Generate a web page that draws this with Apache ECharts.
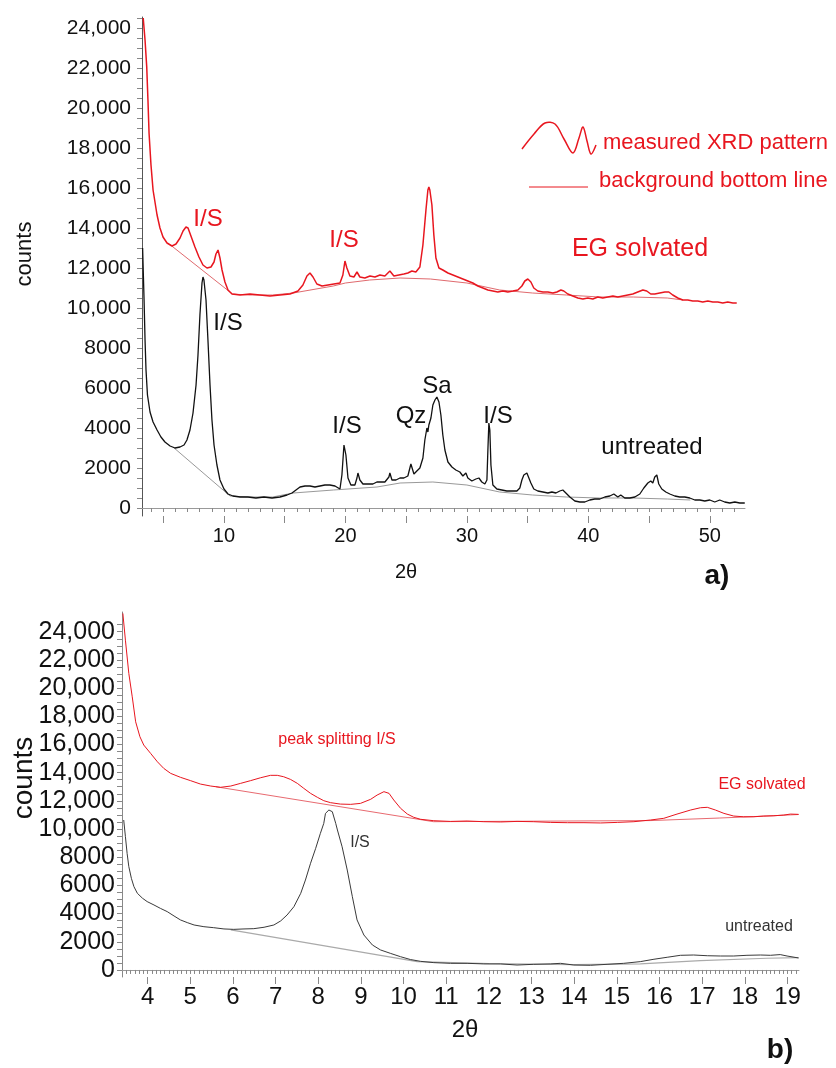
<!DOCTYPE html>
<html>
<head>
<meta charset="utf-8">
<title>XRD patterns - EG solvated / untreated</title>
<script src="https://cdn.jsdelivr.net/npm/echarts@6.0.0/dist/echarts.min.js"></script>
<style>
  html, body { margin: 0; padding: 0; background: #fff; }
  #main { width: 836px; height: 1068px; }
</style>
</head>
<body>
<div id="main"></div>
<script>
// ---- panel a) 2theta 3-53 ----
var egA = [[3.35,24500],[3.5,23400],[3.64,22050],[3.74,20400],[3.83,18750],[3.99,17150],[4.16,15900],[4.49,14650],[4.73,14000],[4.98,13550],[5.31,13250],[5.72,13100],[6.05,13200],[6.38,13500],[6.63,13850],[6.87,14050],[7.04,14000],[7.28,13600],[7.61,13050],[7.94,12550],[8.27,12150],[8.6,12000],[8.93,12050],[9.18,12300],[9.34,12700],[9.51,12900],[9.67,12500],[9.84,11900],[10.08,11300],[10.33,10900],[10.66,10700],[11.32,10650],[12.14,10700],[12.96,10650],[13.79,10600],[14.61,10650],[15.43,10700],[16.09,10850],[16.5,11150],[16.83,11600],[17.08,11750],[17.33,11550],[17.65,11200],[18.07,11100],[18.56,11150],[19.05,11200],[19.55,11250],[19.79,11650],[19.96,12350],[20.12,12000],[20.37,11600],[20.7,11550],[20.95,11800],[21.19,11550],[21.6,11500],[22.02,11600],[22.43,11550],[22.84,11650],[23.25,11600],[23.66,11850],[23.99,11600],[24.4,11650],[24.81,11700],[25.14,11750],[25.47,11850],[25.8,11800],[26.13,12050],[26.38,13150],[26.63,14900],[26.79,15900],[26.87,16050],[26.95,15900],[27.12,15150],[27.28,13650],[27.45,12500],[27.7,12000],[28.02,11900],[28.44,11750],[28.85,11650],[29.26,11550],[29.67,11450],[30.08,11350],[30.49,11250],[30.9,11100],[31.32,11000],[31.73,10900],[32.14,10850],[32.55,10800],[32.96,10850],[33.37,10800],[33.79,10850],[34.2,10900],[34.53,11100],[34.77,11350],[35.02,11450],[35.27,11300],[35.51,11000],[35.84,10850],[36.26,10800],[36.67,10800],[37.08,10750],[37.41,10800],[37.74,10900],[37.98,10850],[38.31,10700],[38.72,10600],[39.14,10500],[39.55,10450],[39.96,10500],[40.37,10450],[40.78,10550],[41.19,10500],[41.6,10550],[42.02,10600],[42.43,10550],[42.84,10600],[43.25,10650],[43.66,10700],[44.07,10800],[44.49,10900],[44.81,10850],[45.14,10700],[45.47,10700],[45.88,10750],[46.3,10800],[46.63,10800],[46.95,10650],[47.37,10500],[47.78,10400],[48.19,10400],[48.6,10350],[49.01,10350],[49.42,10300],[49.84,10350],[50.25,10300],[50.66,10300],[51.07,10250],[51.48,10300],[51.9,10250],[52.22,10250]];
var egBgA = [[5.7,13100],[10.7,10700],[12,10650],[14,10650],[15.7,10750],[19,11100],[20,11250],[22,11400],[24.5,11500],[27,11450],[30,11250],[32.7,10900],[35.4,10750],[38.2,10650],[40.9,10550],[43.7,10550],[46.5,10500],[47.8,10400]];
var untreatedA = [[3.3,13000],[3.42,10400],[3.5,8400],[3.58,6900],[3.7,5650],[3.91,4800],[4.16,4300],[4.49,3900],[4.81,3550],[5.14,3300],[5.56,3100],[5.97,3000],[6.38,3050],[6.71,3150],[6.95,3400],[7.2,3900],[7.45,4750],[7.7,6150],[7.86,7650],[8.02,9650],[8.19,11250],[8.27,11550],[8.35,11400],[8.52,10400],[8.68,8400],[8.85,6150],[9.01,4400],[9.18,3150],[9.42,2150],[9.67,1400],[10,950],[10.33,700],[10.74,600],[11.32,550],[11.98,550],[12.63,500],[13.29,550],[13.95,500],[14.61,550],[15.19,650],[15.6,750],[15.93,900],[16.26,1050],[16.67,1100],[17.08,1100],[17.49,1050],[17.9,1100],[18.31,1150],[18.72,1150],[19.14,1100],[19.55,950],[19.71,1650],[19.88,3150],[19.96,3250],[20.04,2650],[20.21,1500],[20.45,1150],[20.78,1150],[20.95,1500],[21.03,1750],[21.19,1400],[21.44,1200],[21.85,1200],[22.26,1200],[22.59,1300],[22.92,1300],[23.25,1300],[23.58,1550],[23.66,1750],[23.83,1400],[24.16,1400],[24.49,1500],[24.81,1500],[25.14,1600],[25.39,2200],[25.47,2250],[25.64,1700],[25.88,1850],[26.13,2000],[26.38,2500],[26.54,3400],[26.71,4000],[26.79,3800],[26.87,4150],[27.04,4500],[27.2,5150],[27.37,5400],[27.53,5550],[27.7,5300],[27.86,4650],[28.02,3650],[28.19,2900],[28.44,2300],[28.77,2050],[29.09,1900],[29.42,1800],[29.67,1600],[29.92,1750],[30.08,1500],[30.41,1350],[30.74,1450],[30.99,1500],[31.23,1300],[31.48,1200],[31.65,1400],[31.73,2900],[31.81,4250],[31.89,3900],[31.98,2150],[32.14,1150],[32.47,950],[32.88,900],[33.29,850],[33.7,850],[34.12,850],[34.36,1000],[34.53,1400],[34.69,1650],[34.94,1750],[35.1,1650],[35.27,1250],[35.51,950],[35.84,850],[36.26,800],[36.67,750],[37,800],[37.33,750],[37.65,850],[37.9,900],[38.15,750],[38.48,550],[38.89,350],[39.3,300],[39.71,300],[40.12,400],[40.53,450],[40.95,450],[41.36,550],[41.77,600],[42.1,700],[42.43,550],[42.67,650],[43,500],[43.42,500],[43.83,550],[44.24,700],[44.57,1000],[44.9,1250],[45.14,1350],[45.31,1250],[45.47,1550],[45.64,1650],[45.8,1200],[46.05,950],[46.38,800],[46.71,700],[47.12,600],[47.53,550],[47.94,550],[48.35,500],[48.77,400],[49.18,400],[49.59,350],[50,400],[50.41,300],[50.82,400],[51.23,300],[51.65,250],[52.06,300],[52.47,250],[52.88,250]];
var untreatedBgA = [[5.8,3050],[10.5,600],[12,550],[14,550],[15.7,750],[19,900],[22.6,1050],[24.5,1250],[27.2,1300],[30,1150],[32.7,800],[35.4,650],[38.2,550],[40.9,500],[43.7,500],[46.5,450],[48.4,400]];

// ---- panel b) zoom on the low angle part ----
var egB = [[3.42,25300],[3.48,23400],[3.56,21040],[3.64,19380],[3.72,17610],[3.82,16550],[3.91,15960],[4.07,15370],[4.23,14770],[4.38,14300],[4.54,13950],[4.77,13670],[5.01,13430],[5.24,13190],[5.48,13050],[5.71,12960],[5.95,13050],[6.18,13240],[6.41,13430],[6.65,13640],[6.88,13810],[7.04,13810],[7.19,13710],[7.35,13520],[7.51,13240],[7.66,12890],[7.82,12530],[7.98,12250],[8.13,12010],[8.29,11870],[8.52,11770],[8.76,11750],[8.99,11820],[9.23,12110],[9.38,12410],[9.54,12650],[9.66,12530],[9.77,12060],[9.93,11470],[10.09,11060],[10.24,10830],[10.4,10690],[10.71,10590],[11.1,10540],[11.49,10570],[11.88,10520],[12.27,10500],[12.66,10540],[13.05,10520],[13.44,10470],[13.84,10450],[14.23,10450],[14.62,10430],[15.01,10470],[15.4,10520],[15.79,10640],[16.1,10760],[16.41,11060],[16.73,11350],[16.96,11510],[17.12,11540],[17.31,11350],[17.51,11110],[17.74,10920],[17.97,10870],[18.21,10870],[18.44,10920],[18.68,10940],[18.91,10990],[19.07,11060],[19.26,11040]];
var egBgB = [[5.6,13000],[10.7,10520],[15.8,10600],[17.4,10780],[18.5,10920],[19.26,11030]];
var untreatedB = [[3.44,10640],[3.48,9460],[3.52,8270],[3.56,7330],[3.62,6500],[3.68,5910],[3.76,5440],[3.88,5090],[3.99,4850],[4.15,4610],[4.3,4370],[4.46,4140],[4.62,3830],[4.77,3550],[4.93,3360],[5.09,3190],[5.32,3070],[5.55,3000],[5.79,2910],[6.02,2880],[6.26,2910],[6.49,2930],[6.73,3030],[6.96,3190],[7.12,3480],[7.27,3900],[7.43,4490],[7.59,5440],[7.7,6380],[7.82,7570],[7.94,8630],[8.05,9690],[8.13,10400],[8.17,11110],[8.25,11350],[8.33,11230],[8.41,10400],[8.45,9930],[8.56,8740],[8.68,7090],[8.8,5200],[8.91,3550],[9.07,2480],[9.27,1770],[9.46,1420],[9.69,1180],[9.93,940],[10.16,740],[10.4,610],[10.71,520],[11.1,470],[11.49,470],[11.88,430],[12.27,430],[12.66,350],[13.05,400],[13.44,430],[13.68,470],[13.99,350],[14.38,330],[14.77,400],[15.16,470],[15.55,590],[15.87,760],[16.18,900],[16.49,1040],[16.8,1060],[17.12,1010],[17.43,990],[17.74,990],[18.05,1040],[18.37,1060],[18.6,1040],[18.83,1090],[18.99,990],[19.26,850]];
var untreatedBgB = [[5.95,2840],[10.32,590],[12,450],[14,380],[15.55,430],[16.96,660],[18.52,830],[19.26,870]];

// tick labels
var yLabels = [0,2000,4000,6000,8000,10000,12000,14000,16000,18000,20000,22000,24000];
var xLabelsA = [10,20,30,40,50];
var xLabelsB = [4,5,6,7,8,9,10,11,12,13,14,15,16,17,18,19];

var RED = '#e8161f';
var FONT = '"Liberation Sans", Arial, sans-serif';

function steps(from, to, step) {
  var out = [];
  for (var v = from; v <= to + 1e-9; v += step) out.push(Math.round(v * 100) / 100);
  return out;
}
function fmt(v) {
  return v >= 10000 ? String(v).replace(/\B(?=(\d{3})+(?!\d))/g, ',') : String(v);
}

function xAxisMain(grid, min, max, ticks, labels, fs, margin) {
  return {
    gridIndex: grid, type: 'value', min: min, max: max, position: 'bottom',
    axisLine: { lineStyle: { color: '#999', width: 1 } },
    axisTick: { customValues: ticks, length: 4, lineStyle: { color: '#888' } },
    axisLabel: { customValues: labels, fontSize: fs, color: '#111', margin: margin, fontFamily: FONT },
    splitLine: { show: false }
  };
}
function xAxisMajor(grid, min, max, ticks, len) {
  return {
    gridIndex: grid, type: 'value', min: min, max: max, position: 'bottom', offset: 0,
    axisLine: { show: false },
    axisTick: { customValues: ticks, length: len, lineStyle: { color: '#888' } },
    axisLabel: { show: false },
    splitLine: { show: false }
  };
}
function yAxisDef(grid, min, max, lineColor, fs, margin) {
  return {
    gridIndex: grid, type: 'value', min: min, max: max, position: 'left',
    axisLine: { show: true, lineStyle: { color: lineColor, width: 1 } },
    axisTick: { customValues: steps(0, 24500, 500), length: 5, lineStyle: { color: '#888' } },
    axisLabel: { customValues: yLabels, formatter: fmt, fontSize: fs, color: '#111', margin: margin, fontFamily: FONT },
    splitLine: { show: false }
  };
}

function line(data, xi, yi, color, width) {
  return {
    type: 'line', data: data, xAxisIndex: xi, yAxisIndex: yi,
    showSymbol: false, symbol: 'none', silent: true,
    lineStyle: { color: color, width: width }
  };
}

function txt(text, x, y, size, color, opts) {
  opts = opts || {};
  return {
    type: 'text', x: x, y: y, rotation: opts.rot || 0, silent: true,
    style: {
      text: text, fill: color, fontSize: size, fontFamily: FONT,
      fontWeight: opts.bold ? 'bold' : 'normal',
      align: opts.align || 'center', verticalAlign: 'middle',
      shadowBlur: opts.shadow ? 3 : 0, shadowColor: 'rgba(0,0,0,0.45)',
      shadowOffsetX: opts.shadow ? 2 : 0, shadowOffsetY: opts.shadow ? 2 : 0
    }
  };
}

var myChart = echarts.init(document.getElementById('main'), null, { renderer: 'canvas' });

var option = {
  backgroundColor: '#fff',
  animation: false,
  grid: [
    { left: 142, top: 17, width: 603, height: 499, outerBoundsMode: 'none' },
    { left: 122, top: 612, width: 677, height: 365, outerBoundsMode: 'none' }
  ],
  xAxis: [
    xAxisMain(0, 3.25, 52.9, steps(4, 52, 1), xLabelsA, 20, 10),
    xAxisMajor(0, 3.25, 52.9, steps(5, 50, 5), 7),
    xAxisMain(1, 3.4, 19.27, steps(3.5, 19.2, 0.1), xLabelsB, 24, 8),
    xAxisMajor(1, 3.4, 19.27, xLabelsB, 7)
  ],
  yAxis: [
    yAxisDef(0, -400, 24550, '#555', 21, 11),
    yAxisDef(1, -500, 25400, '#888', 25, 7)
  ],
  series: [
    line(untreatedBgA, 0, 0, '#999', 1),
    line(egBgA, 0, 0, '#e06a6e', 1),
    line(untreatedA, 0, 0, '#111', 1.3),
    line(egA, 0, 0, RED, 1.5),
    line(untreatedBgB, 2, 1, '#aaa', 1.2),
    line(egBgB, 2, 1, '#e86a70', 1),
    line(untreatedB, 2, 1, '#3a3a3a', 1),
    line(egB, 2, 1, RED, 1)
  ],
  graphic: [
    // axis titles
    txt('counts', 25, 254, 22, '#111', { rot: Math.PI / 2 }),
    txt('2θ', 406, 572, 20, '#111'),
    txt('a)', 717, 576, 28, '#111', { bold: true, shadow: true }),
    txt('counts', 24, 778, 28, '#111', { rot: Math.PI / 2 }),
    txt('2θ', 465, 1030, 24, '#111'),
    txt('b)', 780, 1050, 28, '#111', { bold: true, shadow: true }),
    // legend of panel a
    {
      type: 'polyline', silent: true,
      shape: { points: [[522,149],[534,134],[545,123],[555,124],[564,139],[573,153],[579,138],[583,127],[587,141],[591,154],[596,145]], smooth: 0.35 },
      style: { stroke: RED, lineWidth: 1.5, fill: null }
    },
    { type: 'line', silent: true, shape: { x1: 529, y1: 187, x2: 588, y2: 187 }, style: { stroke: RED, lineWidth: 1 } },
    txt('measured XRD pattern', 603, 143, 22, RED, { align: 'left' }),
    txt('background bottom line', 599, 181, 22, RED, { align: 'left' }),
    // panel a annotations
    txt('EG solvated', 640, 249, 25, RED),
    txt('I/S', 208, 219, 24, RED),
    txt('I/S', 344, 240, 24, RED),
    txt('I/S', 228, 323, 24, '#111'),
    txt('I/S', 347, 426, 24, '#111'),
    txt('Qz', 411, 416, 24, '#111'),
    txt('Sa', 437, 386, 24, '#111'),
    txt('I/S', 498, 416, 24, '#111'),
    txt('untreated', 652, 447, 24, '#111'),
    // panel b annotations
    txt('peak splitting I/S', 337, 740, 16, RED),
    txt('EG solvated', 762, 785, 16, RED),
    txt('I/S', 360, 843, 16, '#333'),
    txt('untreated', 759, 927, 16, '#333')
  ]
};

myChart.setOption(option);
</script>
</body>
</html>
